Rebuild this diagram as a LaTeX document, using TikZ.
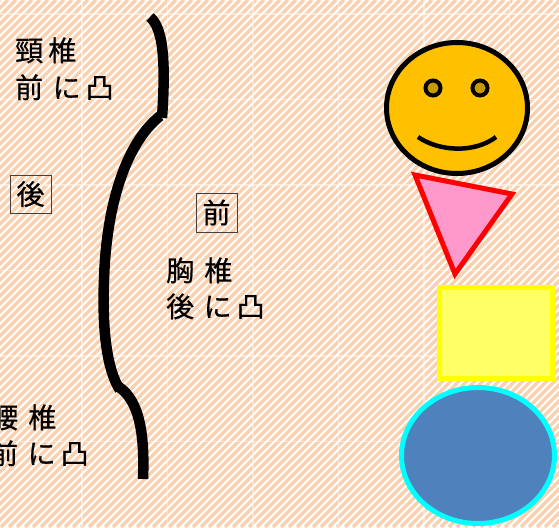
\documentclass[tikz,border=0pt]{standalone}
\usepackage{fontspec}
\usetikzlibrary{shapes.geometric}
\newfontfamily\jpfont[FakeBold=0.6]{Noto Sans CJK JP}
\definecolor{peach}{HTML}{FAD0AE}
\definecolor{faceyellow}{HTML}{FFC000}
\definecolor{eyefill}{HTML}{C99A00}
\definecolor{pinkfill}{HTML}{FF99CC}
\definecolor{lightyellow}{HTML}{FFFF66}
\definecolor{pureyellow}{HTML}{FFFF00}
\definecolor{purered}{HTML}{FF0000}
\definecolor{purecyan}{HTML}{00FFFF}
\definecolor{steelblue}{HTML}{4F81BD}
\begin{document}
\begin{tikzpicture}[x=1pt,y=-1pt,
  label/.style={font=\jpfont\fontsize{28}{30}\selectfont, inner sep=0pt, anchor=base west},
  boxed/.style={font=\jpfont\fontsize{28}{30}\selectfont, draw=black!75, line width=0.9pt,
    minimum width=41pt, minimum height=38pt, inner sep=0pt},
  brace/.style={line width=10.5pt, line cap=butt, black},
  outline/.style={line width=5pt, line join=miter}]
\useasboundingbox (0,0) rectangle (559,527);
\begin{scope}
\clip (0,0) rectangle (559,527);
% striped backdrop
\fill[white] (0,0) rectangle (559,527);
\foreach \c in {0,8,...,1096}
  \draw[peach, line width=3.4pt] (\c,0) -- (\c-527,527);
% faint tile seams
\foreach \k in {0,...,5} {
  \draw[white, opacity=0.5, line width=1.2pt] (82+85.5*\k,0) -- (82+85.5*\k,527);
  \draw[white, opacity=0.5, line width=1.2pt] (0,14+85.5*\k) -- (559,14+85.5*\k);
}

% labels
\node[label] (cerv1) at (15,61) {頸\kern5pt 椎};
\node[label] (cerv2) at (15,98) {前\kern9.5pt に\kern5pt 凸};
\node[boxed] (back) at (30.5,194) {後};
\node[boxed, minimum height=39pt] (front) at (216.5,212.5) {前};
\node[label] (thor1) at (166,281) {胸\kern10pt 椎};
\node[label] (thor2) at (166,317) {後\kern9.5pt に\kern5pt 凸};
\node[label] (lumb1) at (-10,428) {腰\kern10pt 椎};
\node[label] (lumb2) at (-10,464) {前\kern9.5pt に\kern5pt 凸};

% spine curve in three pieces
\coordinate (b0) at (150,17);
\coordinate (b1) at (162,118);
\coordinate (b2) at (160,116);
\coordinate (b3) at (120,390);
\coordinate (b4) at (119,387);
\coordinate (b5) at (143,479);
\draw[brace] (b0) .. controls (163,28) and (166,60) .. (b1);
\draw[brace] (b2) .. controls (124,145) and (106,210) .. (104,280)
                  .. controls (102,330) and (107,370) .. (b3);
\draw[brace] (b4) .. controls (138,400) and (145,430) .. (b5);

% smiling face
\node[draw=black, fill=faceyellow, line width=5pt, ellipse, minimum width=141pt,
  minimum height=131pt, inner sep=0pt, outer sep=0pt] (face) at (457,108) {};
\node[draw=black, fill=eyefill, line width=4pt, circle, minimum size=15pt, inner sep=0pt]
  (eyeL) at (433,88) {};
\node[draw=black, fill=eyefill, line width=4pt, circle, minimum size=15pt, inner sep=0pt]
  (eyeR) at (480,88) {};
\coordinate (smileL) at (418,137);
\coordinate (smileR) at (496,137);
\draw[line width=4.5pt] (smileL) .. controls (440,152) and (475,153) .. (smileR);

% triangle
\coordinate (t1) at (415,175);
\coordinate (t2) at (512,194);
\coordinate (t3) at (455,274);
\draw[outline, draw=purered, fill=pinkfill] (t1) -- (t2) -- (t3) -- cycle;

% square
\node[draw=pureyellow, fill=lightyellow, line width=5pt, rectangle, minimum width=113pt,
  minimum height=91pt, inner sep=0pt, outer sep=0pt] (box) at (496,333) {};

% oval
\node[draw=purecyan, fill=steelblue, line width=5pt, ellipse, minimum width=153pt,
  minimum height=136pt, inner sep=0pt, outer sep=0pt] (oval) at (478,455.5) {};
\end{scope}
\end{tikzpicture}
\end{document}
